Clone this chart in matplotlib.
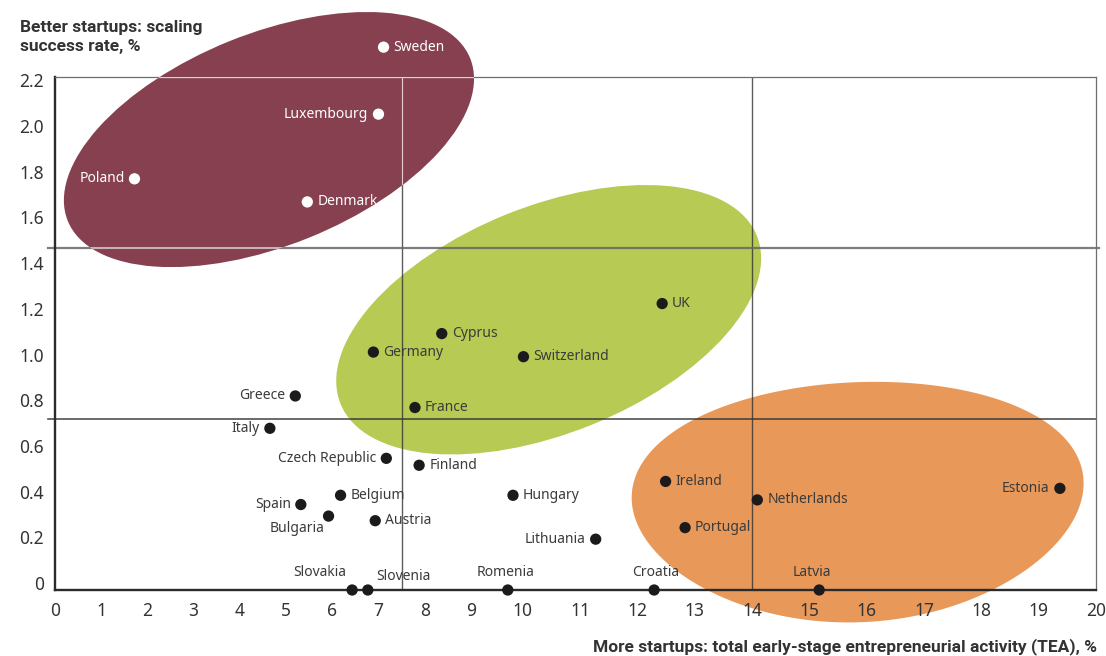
import numpy as np
import matplotlib
matplotlib.use("Agg")
import matplotlib.pyplot as plt
from matplotlib.patches import Ellipse, Polygon
import matplotlib.transforms as mtransforms

# ---- data -------------------------------------------------------------
countries = ["Sweden", "Luxembourg", "Poland", "Denmark",
             "UK", "Cyprus", "Germany", "Switzerland", "France",
             "Greece", "Italy", "Czech Republic", "Finland", "Belgium",
             "Hungary", "Spain", "Bulgaria", "Austria", "Lithuania",
             "Ireland", "Netherlands", "Portugal", "Estonia",
             "Slovakia", "Slovenia", "Romenia", "Croatia", "Latvia"]
tea = [7.11, 7.00, 1.72, 5.46,
       12.43, 8.37, 6.89, 10.01, 7.79,
       5.20, 4.65, 7.17, 7.88, 6.18,
       9.81, 5.32, 5.92, 6.93, 11.27,
       12.49, 14.09, 12.83, 19.37,
       6.43, 6.77, 9.71, 12.29, 15.17]
scaling = [2.35, 2.06, 1.78, 1.68,
           1.24, 1.11, 1.03, 1.01, 0.79,
           0.84, 0.70, 0.57, 0.54, 0.41,
           0.41, 0.37, 0.32, 0.30, 0.22,
           0.47, 0.39, 0.27, 0.44,
           0.0, 0.0, 0.0, 0.0, 0.0]
highlighted = ["Sweden", "Luxembourg", "Poland", "Denmark"]

x_ticks = list(range(0, 21))
y_ticks = [0, 0.2, 0.4, 0.6, 0.8, 1.0, 1.2, 1.4, 1.6, 1.8, 2.0, 2.2]
y_tick_labels = ["0", "0.2", "0.4", "0.6", "0.8", "1.0", "1.2", "1.4",
                 "1.6", "1.8", "2.0", "2.2"]
tea_threshold = [7.5, 14.0]
scaling_threshold = [1.48, 0.74]

# ---- label placement (offset in pixels, alignment) ---------------------
R = (10, 0, "left", "center")
L = (-10, 0, "right", "center")
placement = {
    "Sweden": R, "Luxembourg": L, "Poland": L, "Denmark": R,
    "UK": R, "Cyprus": R, "Germany": R, "Switzerland": R, "France": R,
    "Greece": L, "Italy": L, "Czech Republic": L, "Finland": R,
    "Belgium": R, "Hungary": R, "Spain": L,
    "Bulgaria": (-4, -12, "right", "center"), "Austria": R,
    "Lithuania": L, "Ireland": R, "Netherlands": R, "Portugal": R,
    "Estonia": (-11, 0, "right", "center"),
    "Slovakia": (-6, 17, "right", "center"),
    "Slovenia": (8, 13, "left", "center"),
    "Romenia": (-2, 17, "center", "center"),
    "Croatia": (2, 17, "center", "center"),
    "Latvia": (-7, 17, "center", "center"),
}

FONT = ["Noto Sans", "DejaVu Sans"]
BOLD_FONT = ["Roboto", "DejaVu Sans"]
plt.rcParams["font.family"] = FONT
TXT = "#3b3b3b"
MAROON = "#86404f"
GREEN = "#b7ca53"
ORANGE = "#e89859"

W, H = 1106, 656
fig = plt.figure(figsize=(W / 100, H / 100), dpi=100)
ax = fig.add_axes([55 / W, 66 / H, (1096 - 55) / W, (590 - 77) / H])


# piecewise-linear horizontal scale (wider spacing above 10)
def fwd(x):
    x = np.asarray(x, dtype=float)
    return np.where(x < 9, x * 46.2,
                    np.where(x < 10, 415.8 + (x - 9) * 52.0,
                             467.8 + (x - 10) * 57.3))


def inv(t):
    t = np.asarray(t, dtype=float)
    return np.where(t < 415.8, t / 46.2,
                    np.where(t < 467.8, 9 + (t - 415.8) / 52.0,
                             10 + (t - 467.8) / 57.3))


ax.set_xscale("function", functions=(fwd, inv))
ax.set_xlim(0, 20)
Y_TOP = 2.2208
ax.set_ylim(0, Y_TOP)


def anchored(xd, yd):
    """Shape coordinates in inches, anchored at a data point."""
    return fig.dpi_scale_trans + mtransforms.ScaledTranslation(xd, yd, ax.transData)


# cluster shapes
maroon = Ellipse((0, 0), 4.34, 2.12, angle=22, facecolor=MAROON,
                 edgecolor="none", transform=anchored(4.63, 1.95),
                 clip_on=False, zorder=1)
green = Ellipse((0, 0), 4.49, 2.27, angle=22, facecolor=GREEN,
                edgecolor="none", transform=anchored(10.45, 1.17),
                clip_on=False, zorder=1)
ax.add_patch(maroon)
ax.add_patch(green)

# egg-shaped cluster: broader at the top, slightly tilted
t = np.linspace(0, 2 * np.pi, 400, endpoint=False)
a_in, b_in, k, tilt = 2.25, 1.20, 0.10, np.deg2rad(2.5)
ex = a_in * np.cos(t) * (1 + k * np.sin(t))
ey = b_in * np.sin(t)
egg = np.column_stack([ex * np.cos(tilt) - ey * np.sin(tilt),
                       ex * np.sin(tilt) + ey * np.cos(tilt)])
orange = Polygon(egg, closed=True, facecolor=ORANGE, edgecolor="none",
                 transform=anchored(15.85, 0.38), clip_on=False, zorder=1)
ax.add_patch(orange)

# quadrant lines
ytr = ax.get_yaxis_transform()
for xv in tea_threshold:
    ax.axvline(xv, color="#333333", alpha=0.8, lw=1.0, zorder=2)
ax.plot([-0.007, 1.003], [scaling_threshold[0]] * 2, transform=ytr,
        color="#666666", alpha=0.85, lw=1.6, clip_on=False, zorder=2)
ax.plot([-0.007, 1.0], [scaling_threshold[1]] * 2, transform=ytr,
        color="#333333", alpha=0.85, lw=1.2, clip_on=False, zorder=2)

# light copies of the lines where they cross the maroon cluster
light = "#e8cbd2"
for ln in [ax.axvline(tea_threshold[0], color=light, lw=0.9, zorder=2.6),
           ax.axhline(scaling_threshold[0], color=light, lw=1.1, zorder=2.6),
           ax.axhline(Y_TOP, color=light, lw=0.9, zorder=2.6)]:
    ln.set_clip_path(maroon)

# spines
for s in ["left", "bottom"]:
    ax.spines[s].set_color("#2b2b2b")
    ax.spines[s].set_linewidth(1.7)
for s in ["top", "right"]:
    ax.spines[s].set_color("#6e6e6e")
    ax.spines[s].set_linewidth(0.9)

ax.set_xticks(x_ticks)
ax.set_xticklabels([str(v) for v in x_ticks])
ax.tick_params(axis="x", length=0, labelsize=12.5, colors="#333333", pad=9)
ax.minorticks_off()

# y tick labels, set slightly tighter than the grid
ax.set_yticks(y_ticks)
ax.set_yticklabels([])
ax.tick_params(axis="y", length=0)
for yv, lab in zip(y_ticks, y_tick_labels):
    nudge = mtransforms.ScaledTranslation(-11 / 100, (5 - 2.5 * yv) / 100,
                                          fig.dpi_scale_trans)
    ax.text(0, yv, lab, transform=ytr + nudge, ha="right", va="center",
            fontsize=12.5, color="#333333", clip_on=False)

# points and labels
for name, xv, yv in zip(countries, tea, scaling):
    hi = name in highlighted
    ax.scatter([xv], [yv], s=66, color="#ffffff" if hi else "#1d1a1c",
               edgecolors="none", zorder=3, clip_on=False)
    dx, dy, ha, va = placement[name]
    ax.annotate(name, (xv, yv), xytext=(dx, dy), textcoords="offset pixels",
                ha=ha, va=va, fontsize=10, color="#ffffff" if hi else TXT,
                zorder=4, annotation_clip=False)

# axis titles
title_kw = dict(fontsize=12.5, fontweight="bold", color="#333333",
                family=BOLD_FONT, va="baseline")
fig.text(20 / W, 1 - 32 / H, "Better startups: scaling", ha="left", **title_kw)
fig.text(20 / W, 1 - 51 / H, "success rate, %", ha="left", **title_kw)
fig.text(1097 / W, 1 - 651 / H,
         "More startups: total early-stage entrepreneurial activity (TEA), %",
         ha="right", **title_kw)

fig.savefig("out.png", dpi=100)
